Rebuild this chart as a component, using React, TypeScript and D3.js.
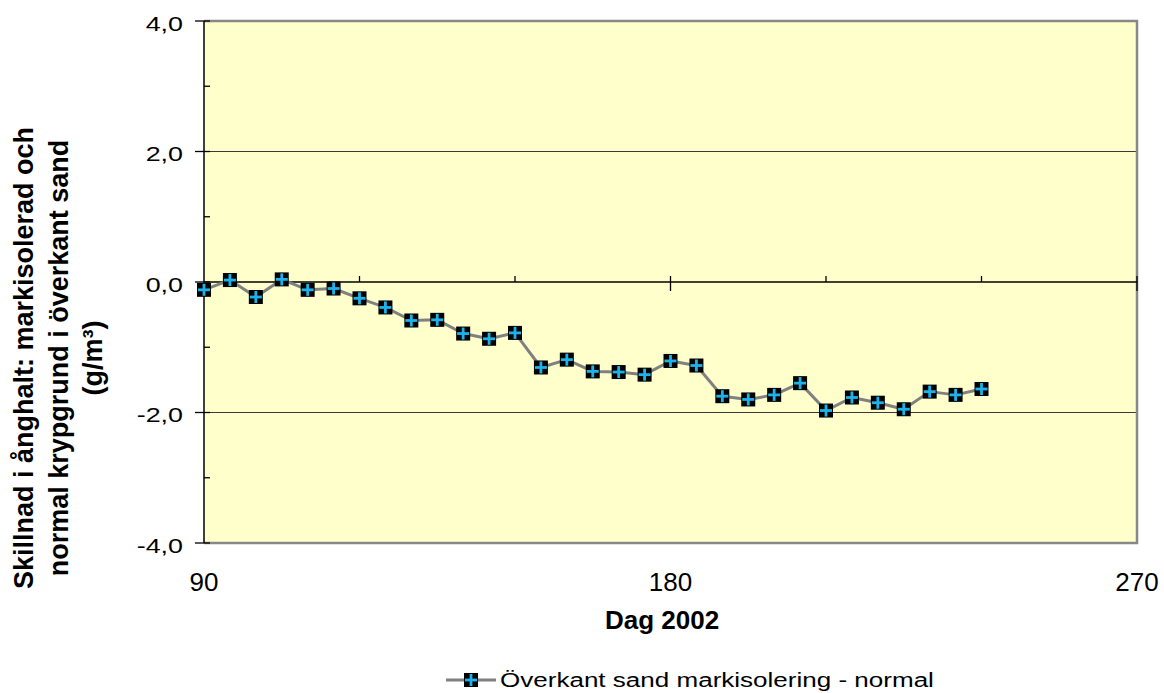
import React from "react";
import * as d3 from "d3";

const days = [90, 95, 100, 105, 110, 115, 120, 125, 130, 135, 140, 145, 150, 155, 160, 165, 170, 175, 180, 185, 190, 195, 200, 205, 210, 215, 220, 225, 230, 235, 240];
const values = [-0.12, 0.03, -0.23, 0.04, -0.12, -0.10, -0.25, -0.39, -0.59, -0.58, -0.79, -0.87, -0.78, -1.31, -1.19, -1.37, -1.38, -1.42, -1.21, -1.28, -1.75, -1.80, -1.73, -1.55, -1.97, -1.77, -1.85, -1.95, -1.68, -1.73, -1.64];
const xMajorTicks = [90, 180, 270];
const xMinorTicks = [120, 150, 210, 240];
const yMajorTicks = [-4, -2, 0, 2, 4];
const yMinorTicks = [-3, -1, 1, 3];
const seriesName = "Överkant sand markisolering - normal";
const xTitle = "Dag 2002";
const yTitleLines = ["Skillnad i ånghalt: markisolerad och", "normal krypgrund i överkant sand", "(g/m³)"];

const W = 1164;
const H = 693;
const FONT = "'Liberation Sans', Arial, sans-serif";

function Marker({ x, y }: { x: number; y: number }) {
  return (
    <g transform={`translate(${x},${y})`}>
      <rect x={-7} y={-7} width={14} height={14} fill="#000" />
      <rect x={-1.4} y={-6} width={2.8} height={12} fill="#1CB2EA" />
      <rect x={-6} y={-1.4} width={12} height={2.8} fill="#1CB2EA" />
    </g>
  );
}

export default function App() {
  const x = d3.scaleLinear().domain([90, 270]).range([204, 1137]);
  const y = d3.scaleLinear().domain([-4, 4]).range([543, 21]);
  const line = d3
    .line<number>()
    .x((_, i) => x(days[i]))
    .y((d) => y(d));
  const fmt = (v: number) => v.toFixed(1).replace(".", ",");

  return (
    <div style={{ position: "absolute", left: 0, top: 0 }}>
      <svg width={W} height={H} style={{ display: "block", fontFamily: FONT }}>
        <rect x={0} y={0} width={W} height={H} fill="#fff" />
        {/* plot area */}
        <rect x={x(90)} y={y(4)} width={x(270) - x(90)} height={y(-4) - y(4)} fill="#FFFFCC" />
        {/* gridlines */}
        {yMajorTicks
          .filter((t) => t !== 0 && Math.abs(t) !== 4)
          .map((t) => (
            <line key={"g" + t} x1={x(90)} x2={x(270)} y1={y(t)} y2={y(t)} stroke="#3a3a3a" strokeWidth={1} />
          ))}
        {/* border */}
        <path
          d={`M${x(90)},${y(4)}H${x(270)}V${y(-4)}H${x(90)}`}
          fill="none"
          stroke="#888"
          strokeWidth={2.5}
        />
        {/* y axis */}
        <line x1={x(90)} x2={x(90)} y1={y(4)} y2={y(-4)} stroke="#000" strokeWidth={1.5} />
        {yMajorTicks.map((t) => (
          <line key={"ym" + t} x1={x(90) - 9} x2={x(90) + 6} y1={y(t)} y2={y(t)} stroke="#000" strokeWidth={1.3} />
        ))}
        {yMinorTicks.map((t) => (
          <line key={"yn" + t} x1={x(90)} x2={x(90) + 6} y1={y(t)} y2={y(t)} stroke="#000" strokeWidth={1.3} />
        ))}
        {/* x axis at zero */}
        <line x1={x(90)} x2={x(270)} y1={y(0)} y2={y(0)} stroke="#000" strokeWidth={1.5} />
        {xMajorTicks
          .filter((t) => t !== 90)
          .map((t) => (
            <line key={"xm" + t} x1={x(t)} x2={x(t)} y1={y(0) - 6} y2={y(0) + 9} stroke="#000" strokeWidth={1.3} />
          ))}
        {xMinorTicks.map((t) => (
          <line key={"xn" + t} x1={x(t)} x2={x(t)} y1={y(0) - 6} y2={y(0)} stroke="#000" strokeWidth={1.3} />
        ))}
        {/* y tick labels */}
        {yMajorTicks.map((t) => (
          <text
            key={"yl" + t}
            transform={`translate(183,${y(t) + 9.5}) scale(1.28,1)`}
            textAnchor="end"
            fontSize={21}
            fill="#000"
          >
            {fmt(t)}
          </text>
        ))}
        {/* x tick labels */}
        {xMajorTicks.map((t) => (
          <text key={"xl" + t} x={x(t)} y={591} textAnchor="middle" fontSize={26} fill="#000">
            {t}
          </text>
        ))}
        {/* x title */}
        <text x={662} y={629} textAnchor="middle" fontSize={26} fontWeight="bold" fill="#000">
          {xTitle}
        </text>
        {/* y title */}
        {yTitleLines.map((s, i) => (
          <text
            key={"yt" + i}
            transform={`translate(${33 + i * 34.5},358) rotate(-90)`}
            textAnchor="middle"
            fontSize={27}
            fontWeight="bold"
            fill="#000"
          >
            {s}
          </text>
        ))}
        {/* series */}
        <path d={line(values) || ""} fill="none" stroke="#808080" strokeWidth={3} strokeLinejoin="round" />
        {values.map((v, i) => (
          <Marker key={"m" + i} x={x(days[i])} y={y(v)} />
        ))}
        {/* legend */}
        <line x1={446} x2={496} y1={680} y2={680} stroke="#808080" strokeWidth={3} />
        <Marker x={471} y={680} />
        <text transform="translate(500,687) scale(1.24,1)" fontSize={21} fill="#000">
          {seriesName}
        </text>
      </svg>
    </div>
  );
}
